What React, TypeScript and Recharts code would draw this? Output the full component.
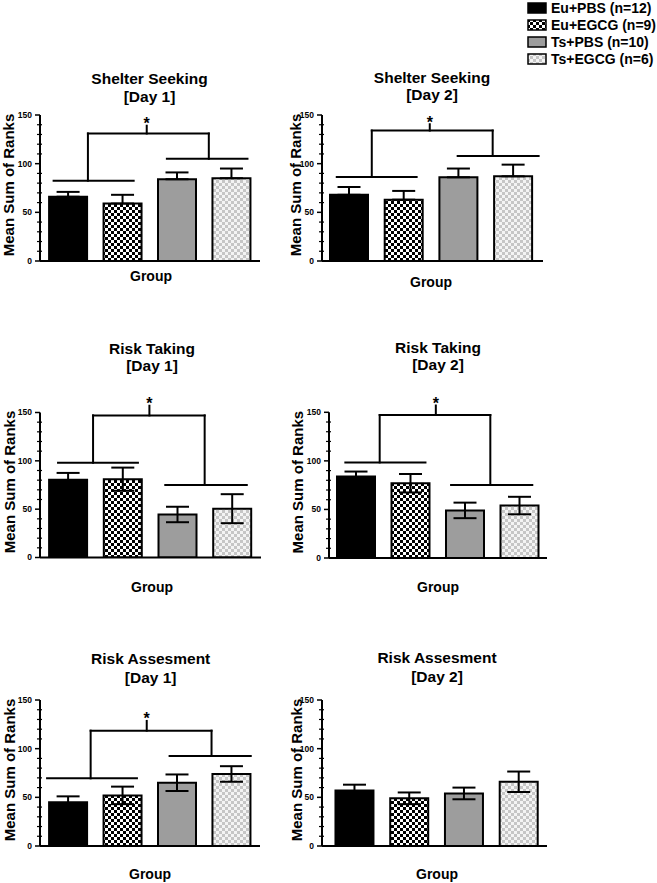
import React from 'react';
import { BarChart, Bar, XAxis, YAxis, ErrorBar, Cell, ReferenceLine, ReferenceDot, Legend } from 'recharts';

const FONT = '"Liberation Sans", Arial, Helvetica, sans-serif';

// ---------- data ----------
const groupNames = ['Eu+PBS (n=12)', 'Eu+EGCG (n=9)', 'Ts+PBS (n=10)', 'Ts+EGCG (n=6)'];
const groupPos = [1, 2, 3, 4];
const groupFills = ['#000000', 'url(#chkDark)', '#9d9d9d', 'url(#chkLight)'];

const yTicks = [0, 10, 20, 30, 40, 50, 60, 70, 80, 90, 100, 110, 120, 130, 140, 150];

const panelTitles = ['Shelter Seeking', 'Shelter Seeking', 'Risk Taking', 'Risk Taking', 'Risk Assesment', 'Risk Assesment'];
const panelDays = ['[Day 1]', '[Day 2]', '[Day 1]', '[Day 2]', '[Day 1]', '[Day 2]'];

const shelterDay1Mean = [66, 59, 84, 85];
const shelterDay1Sem = [5, 9, 7, 10];
const shelterDay2Mean = [68, 63, 86, 87];
const shelterDay2Sem = [8, 9, 9, 12];
const riskTakingDay1Mean = [80.5, 81, 44.5, 50.5];
const riskTakingDay1Sem = [7, 12, 8, 15];
const riskTakingDay2Mean = [84, 77, 49, 54];
const riskTakingDay2Sem = [5, 9.5, 8, 9];
const riskAssessDay1Mean = [45, 52, 65, 74];
const riskAssessDay1Sem = [6, 9, 8.5, 8];
const riskAssessDay2Mean = [57, 49, 54, 66];
const riskAssessDay2Sem = [6, 6, 6, 10.5];

// significance brackets (data units): lower lines [x1, x2, y], top y, leg x's, stem [x, yTop]
const shelterDay1Bracket = { left: [0.73, 2.2, 82.5], right: [2.81, 4.29, 105], top: 131, legs: [1.36, 3.58], stem: [2.44, 139] };
const shelterDay2Bracket = { left: [0.77, 2.23, 86.3], right: [2.98, 4.46, 108], top: 134, legs: [1.41, 3.62], stem: [2.47, 140.5] };
const riskTakingDay1Bracket = { left: [0.81, 2.27, 98], right: [2.77, 4.26, 75], top: 147, legs: [1.45, 3.49], stem: [2.48, 157] };
const riskTakingDay2Bracket = { left: [0.8, 2.27, 98.4], right: [2.74, 4.23, 75.2], top: 147.2, legs: [1.43, 3.46], stem: [2.46, 157] };
const riskAssessDay1Bracket = { left: [0.61, 2.26, 69.5], right: [2.86, 4.35, 92.5], top: 118.5, legs: [1.41, 3.63], stem: [2.44, 128.5] };

// ---------- layout ----------
const layouts = [
  { left: 0, top: 60, w: 280, h: 240, axisX: 40, xEnd: 260, y150: 115, y0: 261, xDomain: [0.48, 4.52], yLabelX: 13.5, groupX: 151, groupY: 281, titleX: 149.5, t1: 84, t2: 102 },
  { left: 280, top: 0, w: 377, h: 300, axisX: 322, xEnd: 543, y150: 115, y0: 261, xDomain: [0.5, 4.54], yLabelX: 301, groupX: 431, groupY: 287, titleX: 432, t1: 83, t2: 100 },
  { left: 0, top: 330, w: 280, h: 275, axisX: 40, xEnd: 261, y150: 412.5, y0: 557.5, xDomain: [0.48, 4.52], yLabelX: 15, groupX: 152, groupY: 592, titleX: 152, t1: 354, t2: 371 },
  { left: 280, top: 330, w: 377, h: 275, axisX: 329, xEnd: 547, y150: 412.3, y0: 558, xDomain: [0.5, 4.5], yLabelX: 303, groupX: 438, groupY: 592, titleX: 438, t1: 353, t2: 370 },
  { left: 0, top: 630, w: 280, h: 253, axisX: 40, xEnd: 260, y150: 700, y0: 846, xDomain: [0.48, 4.52], yLabelX: 15, groupX: 150, groupY: 879, titleX: 150.7, t1: 664, t2: 683 },
  { left: 280, top: 630, w: 377, h: 253, axisX: 322, xEnd: 547, y150: 700, y0: 846, xDomain: [0.4, 4.51], yLabelX: 301.5, groupX: 437, groupY: 879, titleX: 437, t1: 663, t2: 682 },
];

const YTick = (props: any) => {
  const { x, y, payload } = props;
  const major = payload.value % 50 === 0;
  return (
    <g>
      {major ? (
        <>
          <line x1={x - 5} x2={x} y1={y} y2={y} stroke="#000" strokeWidth={1.5} />
          <text x={x - 8} y={y} dy="0.35em" textAnchor="end" fontSize={8.5} fontWeight={700} fontFamily={FONT} fill="#000">
            {payload.value}
          </text>
        </>
      ) : (
        <line x1={x - 3} x2={x + 2} y1={y} y2={y} stroke="#000" strokeWidth={1.2} />
      )}
    </g>
  );
};

const LegendBox = () => (
  <div style={{ fontFamily: FONT, fontWeight: 700, fontSize: 14, color: '#000' }}>
    {groupNames.map((n, i) => (
      <div key={i} style={{ display: 'flex', alignItems: 'center', height: 16.8, whiteSpace: 'nowrap' }}>
        <svg width={20} height={12} style={{ marginRight: 4 }}>
          <rect x={1} y={1} width={18} height={10} fill={groupFills[i]} stroke="#000" strokeWidth={1.5} />
        </svg>
        <span>{n}</span>
      </div>
    ))}
  </div>
);

type PanelProps = { cfg: any; mean: number[]; sem: number[]; oneSided: boolean; bracket?: any; legend?: boolean };

function Panel({ cfg, mean, sem, oneSided, bracket, legend }: PanelProps) {
  const data = groupPos.map((x, i) => ({
    x,
    name: groupNames[i],
    value: mean[i],
    err: oneSided ? [0, sem[i]] : sem[i],
  }));
  const margin = { top: cfg.y150 - cfg.top, right: cfg.left + cfg.w - cfg.xEnd, left: 0, bottom: 0 };
  const yWidth = cfg.axisX - cfg.left;
  const xHeight = cfg.top + cfg.h - cfg.y0;
  const lx = cfg.yLabelX - cfg.left;
  const ly = (cfg.y150 + cfg.y0) / 2 - 3 - cfg.top;
  const gx = cfg.groupX - cfg.left;
  const gy = cfg.groupY - cfg.top;
  const lineProps = { stroke: '#000', strokeWidth: 2, ifOverflow: 'visible' as const, strokeLinecap: 'square' as const };

  const segs: any[] = [];
  if (bracket) {
    const b = bracket;
    segs.push([{ x: b.left[0], y: b.left[2] }, { x: b.left[1], y: b.left[2] }]);
    segs.push([{ x: b.right[0], y: b.right[2] }, { x: b.right[1], y: b.right[2] }]);
    segs.push([{ x: b.legs[0], y: b.top }, { x: b.legs[1], y: b.top }]);
    segs.push([{ x: b.legs[0], y: b.top }, { x: b.legs[0], y: b.left[2] }]);
    segs.push([{ x: b.legs[1], y: b.top }, { x: b.legs[1], y: b.right[2] }]);
    segs.push([{ x: b.stem[0], y: b.top }, { x: b.stem[0], y: b.stem[1] }]);
  }

  return (
    <div style={{ position: 'absolute', left: cfg.left, top: cfg.top }}>
      <BarChart width={cfg.w} height={cfg.h} data={data} margin={margin}>
        <XAxis
          type="number"
          dataKey="x"
          domain={cfg.xDomain}
          allowDataOverflow
          tick={false}
          tickLine={false}
          height={xHeight}
          axisLine={{ stroke: '#000', strokeWidth: 2 }}
          label={() => (
            <text x={gx} y={gy} textAnchor="middle" fontSize={14} fontWeight={700} fontFamily={FONT} fill="#000">
              Group
            </text>
          )}
        />
        <YAxis
          type="number"
          domain={[0, 150]}
          allowDataOverflow
          ticks={yTicks}
          interval={0}
          tickSize={0}
          tickMargin={0}
          tickLine={false}
          tick={<YTick />}
          width={yWidth}
          axisLine={{ stroke: '#000', strokeWidth: 2 }}
          label={() => (
            <text
              x={lx}
              y={ly}
              transform={`rotate(-90, ${lx}, ${ly})`}
              textAnchor="middle"
              fontSize={15}
              fontWeight={700}
              fontFamily={FONT}
              fill="#000"
            >
              Mean Sum of Ranks
            </text>
          )}
        />
        <Bar dataKey="value" barSize={38} stroke="#000" strokeWidth={2} isAnimationActive={false}>
          {data.map((d, i) => (
            <Cell key={i} fill={groupFills[i]} />
          ))}
          <ErrorBar dataKey="err" direction="y" width={11.5} stroke="#000" strokeWidth={2} />
        </Bar>
        {segs.map((s, i) => (
          <ReferenceLine key={i} segment={s} {...lineProps} />
        ))}
        {bracket && (
          <ReferenceDot
            x={bracket.stem[0]}
            y={bracket.stem[1]}
            r={0}
            fill="none"
            stroke="none"
            ifOverflow="visible"
            label={(p: any) => {
              const vb = p.viewBox || {};
              return (
                <text x={vb.x} y={vb.y + 3.5} textAnchor="middle" fontSize={16} fontWeight={700} fontFamily={FONT} fill="#000">
                  *
                </text>
              );
            }}
          />
        )}
        {legend && (
          <Legend
            layout="vertical"
            align="center"
            verticalAlign="middle"
            wrapperStyle={{ position: 'absolute', left: 247, top: 0, width: 130, height: 70 }}
            content={() => <LegendBox />}
          />
        )}
      </BarChart>
    </div>
  );
}

export default function App() {
  const means = [shelterDay1Mean, shelterDay2Mean, riskTakingDay1Mean, riskTakingDay2Mean, riskAssessDay1Mean, riskAssessDay2Mean];
  const sems = [shelterDay1Sem, shelterDay2Sem, riskTakingDay1Sem, riskTakingDay2Sem, riskAssessDay1Sem, riskAssessDay2Sem];
  const brackets = [shelterDay1Bracket, shelterDay2Bracket, riskTakingDay1Bracket, riskTakingDay2Bracket, riskAssessDay1Bracket, undefined];
  return (
    <div style={{ position: 'absolute', left: 0, top: 0, width: 657, height: 883, background: '#fff', overflow: 'hidden' }}>
      <svg width={657} height={883} style={{ position: 'absolute', left: 0, top: 0, pointerEvents: 'none' }}>
        <defs>
          <pattern id="chkDark" width="6" height="6" patternUnits="userSpaceOnUse">
            <rect width="6" height="6" fill="#ffffff" />
            <rect width="3" height="3" fill="#000000" />
            <rect x="3" y="3" width="3" height="3" fill="#000000" />
          </pattern>
          <pattern id="chkLight" width="6" height="6" patternUnits="userSpaceOnUse">
            <rect width="6" height="6" fill="#f4f4f4" />
            <rect width="3" height="3" fill="#c6c6c6" />
            <rect x="3" y="3" width="3" height="3" fill="#c6c6c6" />
          </pattern>
        </defs>
        {layouts.map((c, i) => (
          <g key={i} fontFamily={FONT} fontWeight={700} fontSize={15.5} fill="#000">
            <text x={c.titleX} y={c.t1} textAnchor="middle">{panelTitles[i]}</text>
            <text x={c.titleX} y={c.t2} textAnchor="middle">{panelDays[i]}</text>
          </g>
        ))}
      </svg>
      {layouts.map((c, i) => (
        <Panel key={i} cfg={c} mean={means[i]} sem={sems[i]} oneSided={i < 2} bracket={brackets[i]} legend={i === 1} />
      ))}
    </div>
  );
}
